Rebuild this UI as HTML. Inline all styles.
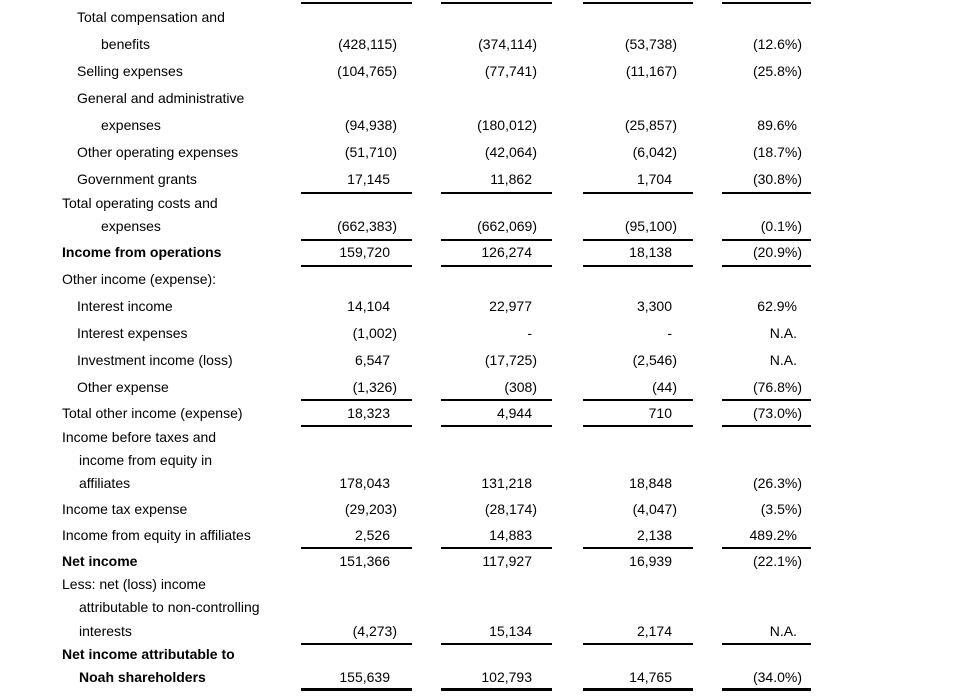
<!DOCTYPE html>
<html><head><meta charset="utf-8"><style>
body{margin:0;width:966px;height:696px;background:#fff;position:relative;overflow:hidden;font-family:"Liberation Sans",Arial,sans-serif;font-size:14px;color:#000}
.t{position:absolute;white-space:nowrap;line-height:16px}
.v{position:absolute;white-space:nowrap;line-height:16px;text-align:right}
.b{font-weight:bold}
.r{position:absolute;background:#000;height:1.5px}
</style></head><body>
<div id="tbl"></div>
<script>
const labels=[["Total compensation and",77,17,0],["benefits",101,44,0],["Selling expenses",77,71,0],["General and administrative",77,98,0],["expenses",101,125,0],["Other operating expenses",77,152,0],["Government grants",77,179,0],["Total operating costs and",62,203,0],["expenses",101,226,0],["Income from operations",62,252,1],["Other income (expense):",62,279,0],["Interest income",77,306,0],["Interest expenses",77,333,0],["Investment income (loss)",77,360,0],["Other expense",77,387,0],["Total other income (expense)",62,413,0],["Income before taxes and",62,437,0],["income from equity in",79,460,0],["affiliates",79,483,0],["Income tax expense",62,509,0],["Income from equity in affiliates",62,535,0],["Net income",62,561,1],["Less: net (loss) income",62,584,0],["attributable to non-controlling",79,607,0],["interests",79,631,0],["Net income attributable to",62,654,1],["Noah shareholders",79,677,1]];
const rowY=[44,71,125,152,179,226,252,306,333,360,387,413,483,509,535,561,631,677];
const col1=["(428,115)","(104,765)","(94,938)","(51,710)","17,145","(662,383)","159,720","14,104","(1,002)","6,547","(1,326)","18,323","178,043","(29,203)","2,526","151,366","(4,273)","155,639"];
const col2=["(374,114)","(77,741)","(180,012)","(42,064)","11,862","(662,069)","126,274","22,977","-","(17,725)","(308)","4,944","131,218","(28,174)","14,883","117,927","15,134","102,793"];
const col3=["(53,738)","(11,167)","(25,857)","(6,042)","1,704","(95,100)","18,138","3,300","-","(2,546)","(44)","710","18,848","(4,047)","2,138","16,939","2,174","14,765"];
const col4=["(12.6%)","(25.8%)","89.6%","(18.7%)","(30.8%)","(0.1%)","(20.9%)","62.9%","N.A.","N.A.","(76.8%)","(73.0%)","(26.3%)","(3.5%)","489.2%","(22.1%)","N.A.","(34.0%)"];
const cols=[col1,col2,col3,col4];
const rPlain=[390,532,672,797], rParen=[397,537,677,802];
const lineX=[[301,412],[441,552],[583,693],[722,811]];
const lineY=[2,192,239,265,399,425,547,643];
const root=document.getElementById('tbl');
labels.forEach(l=>{
  const d=document.createElement('div');
  d.className='t'+(l[3]?' b':'');
  d.style.left=l[1]+'px';d.style.top=(l[2]-8)+'px';d.textContent=l[0];
  
  
  root.appendChild(d);
});
cols.forEach((c,ci)=>{
  c.forEach((val,ri)=>{
    const d=document.createElement('div');
    d.className='v';
    const r=val.endsWith(')')?rParen[ci]:rPlain[ci];
    d.style.right=(966-r)+'px';d.style.top=(rowY[ri]-8)+'px';d.textContent=val;
    
    
    root.appendChild(d);
  });
});
lineX.forEach(x=>{
  lineY.forEach(y=>{
    const d=document.createElement('div');d.className='r';
    d.style.left=x[0]+'px';d.style.width=(x[1]-x[0])+'px';d.style.top=y+'px';
    
    
    root.appendChild(d);
  });
  const d=document.createElement('div');d.className='r';
  d.style.left=x[0]+'px';d.style.width=(x[1]-x[0])+'px';d.style.top='688px';d.style.height='3px';
  
  
  root.appendChild(d);
});
</script>
</body></html>
